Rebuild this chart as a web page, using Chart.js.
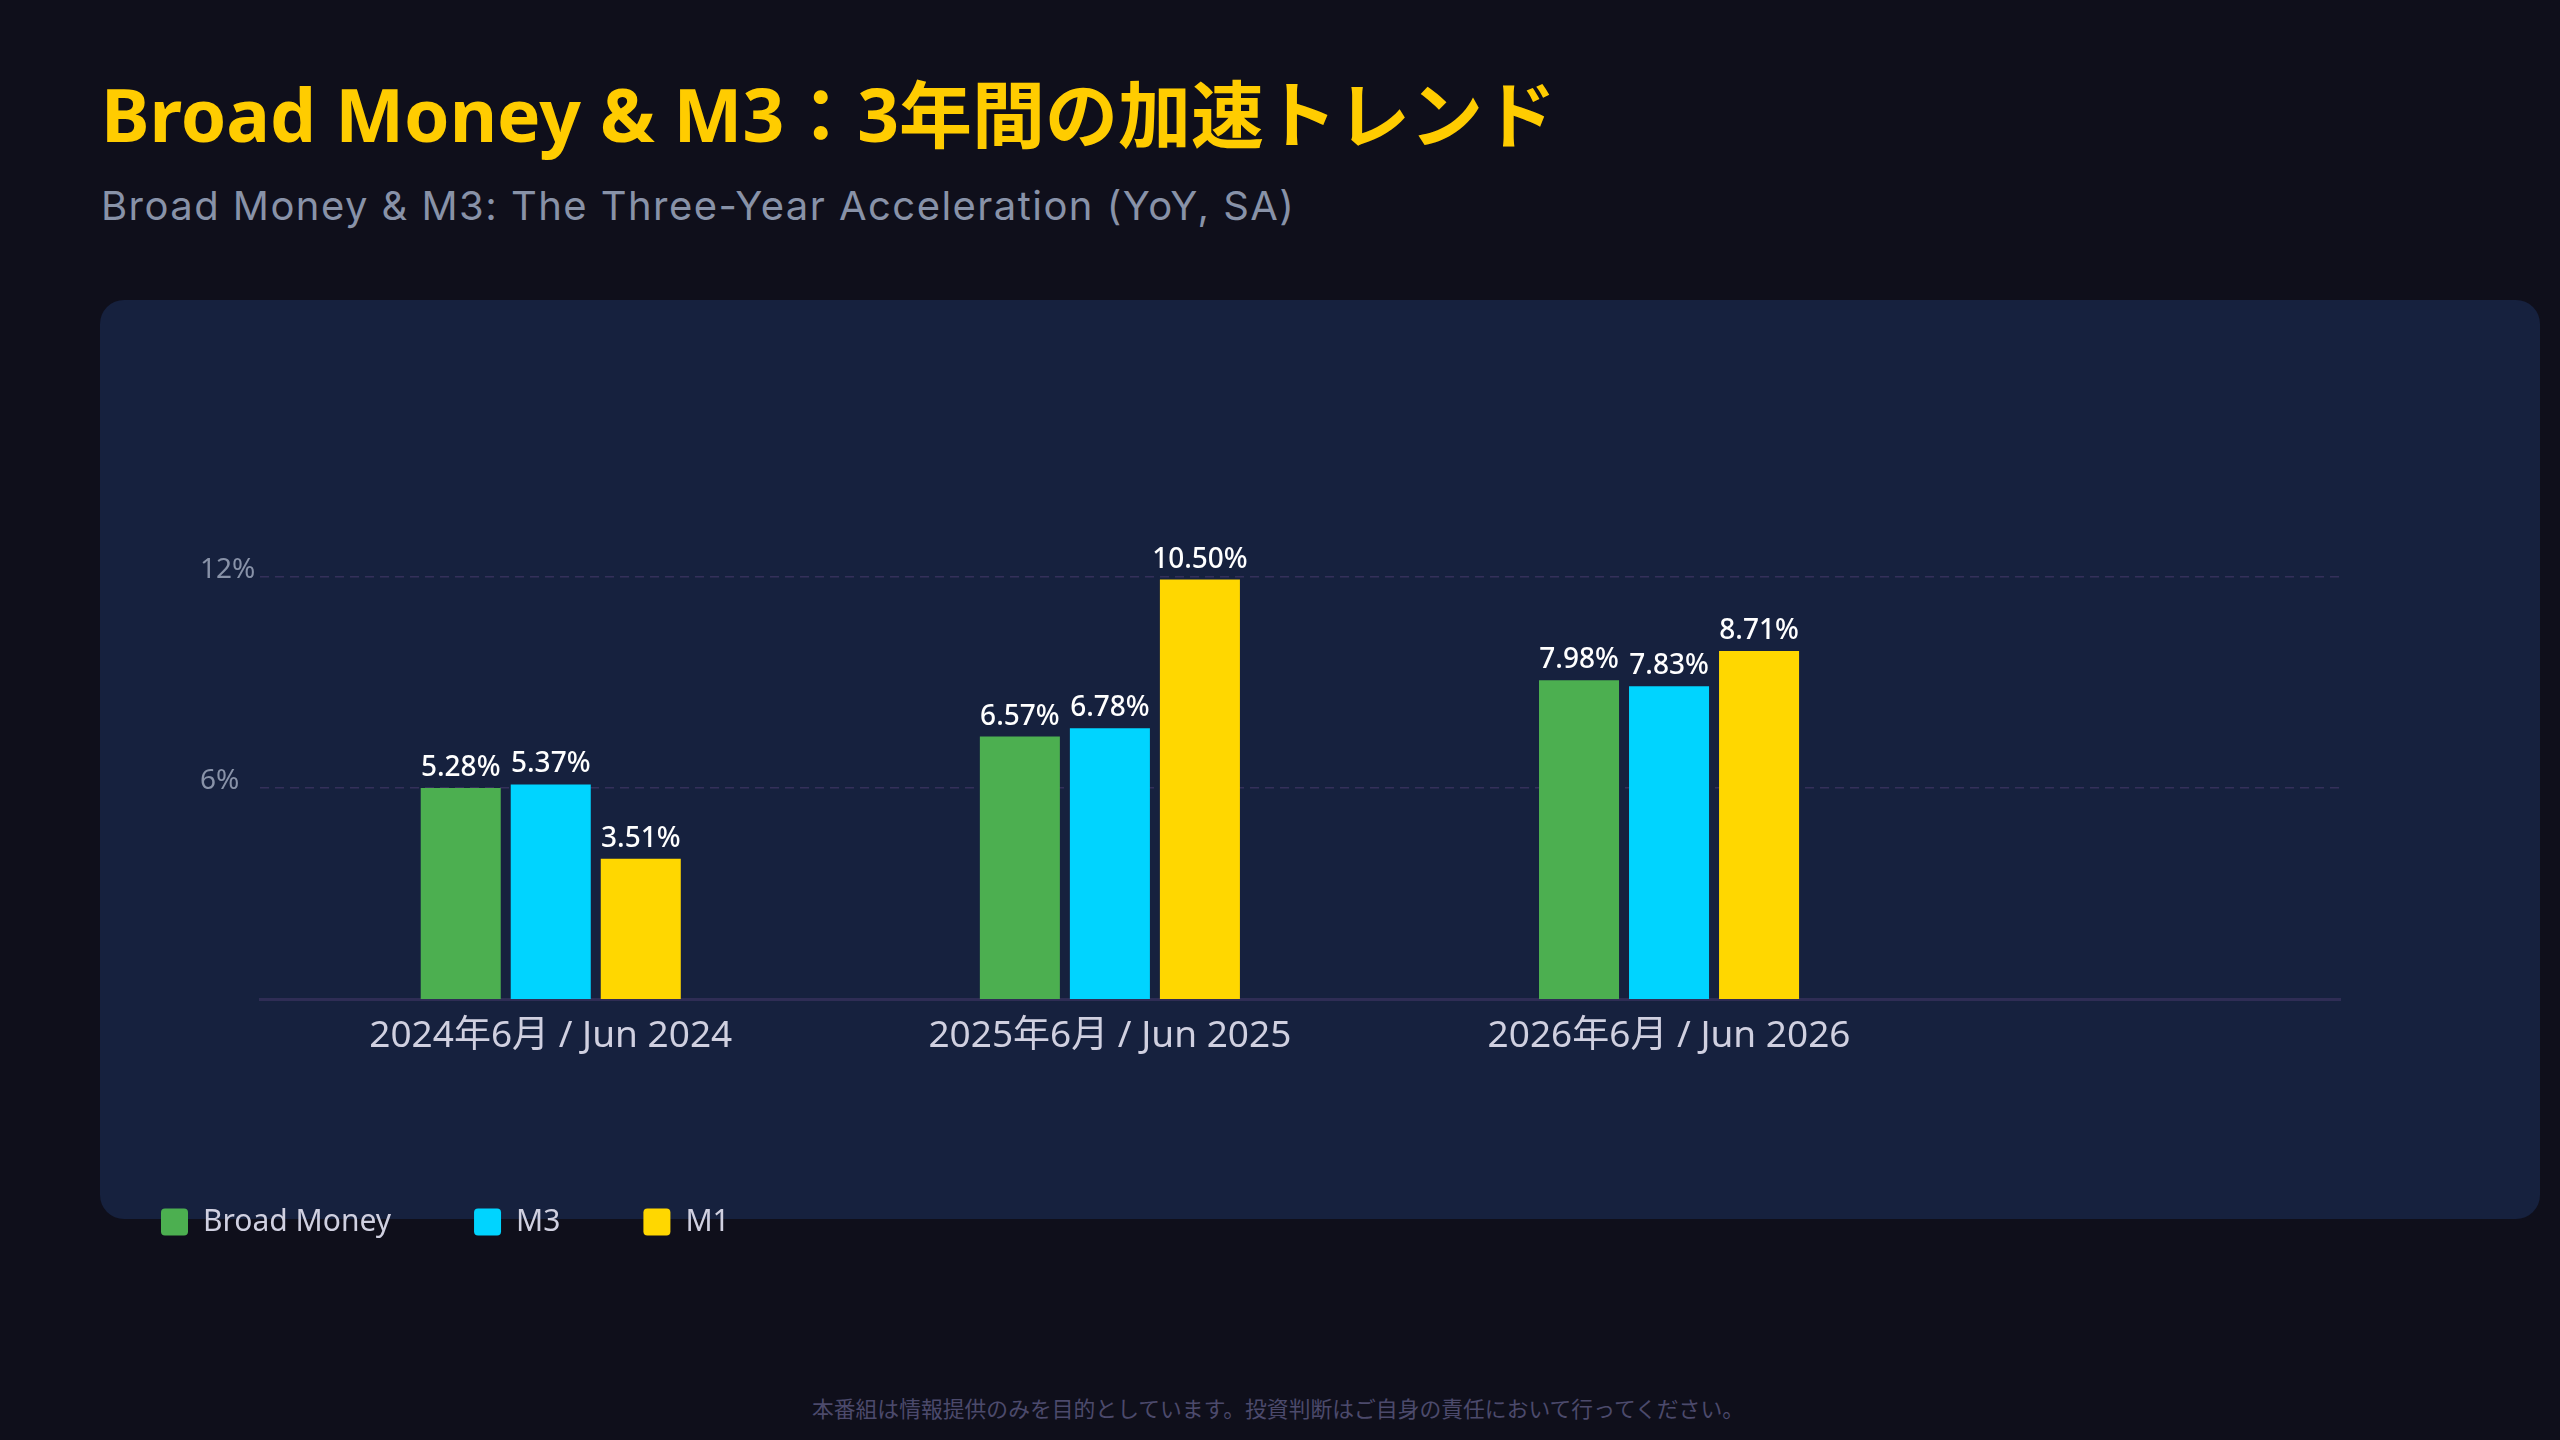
<!DOCTYPE html>
<html lang="ja">
<head>
<meta charset="utf-8">
<title>Broad Money & M3</title>
<script src="https://cdn.jsdelivr.net/npm/chart.js@4.4.1/dist/chart.umd.min.js"></script>
<style>
  html, body { margin: 0; padding: 0; }
  body { width: 2560px; height: 1440px; background: #0f0f1b; position: relative; overflow: hidden; font-family: "Noto Sans", "Noto Sans CJK JP", sans-serif; }
  .card { position: absolute; left: 100px; top: 300px; width: 2440px; height: 919px; border-radius: 24px; background: #16213e; }
  .title { position: absolute; left: 101px; top: 77px; font-size: 73px; line-height: 73px; font-weight: 700; color: #ffcc00; white-space: nowrap; font-family: "Noto Sans", "Noto Sans CJK JP", sans-serif; }
  .subtitle { position: absolute; left: 101px; top: 186px; font-size: 40px; line-height: 40px; letter-spacing: 1.45px; color: #8892a8; white-space: nowrap; font-family: Inter, "Noto Sans", sans-serif; }
  .footer { position: absolute; left: 0; width: 2556px; top: 1393px; text-align: center; font-size: 21.8px; line-height: 30px; color: #4c4a6c; font-family: "Noto Sans CJK JP", sans-serif; }
  #chart { position: absolute; left: 78px; top: 380px; }
</style>
</head>
<body>
<div class="card"></div>
<div class="title">Broad Money &amp; M3：3年間の加速トレンド</div>
<div class="subtitle">Broad Money &amp; M3: The Three-Year Acceleration (YoY, SA)</div>
<canvas id="chart" width="2300" height="900" style="width:2300px;height:900px;"></canvas>
<div class="footer">本番組は情報提供のみを目的としています。投資判断はご自身の責任において行ってください。</div>
<script>
// ---- data ----
const categories = ['2024年6月 / Jun 2024', '2025年6月 / Jun 2025', '2026年6月 / Jun 2026'];
const seriesNames = ['Broad Money', 'M3', 'M1'];
const broadMoney = [5.28, 6.57, 7.98];
const m3 = [5.37, 6.78, 7.83];
const m1 = [3.51, 10.50, 8.71];
// y gridlines as they sit against the bars in the picture, and their printed labels
const yGridValues = [5.29, 10.57];
const yGridLabels = ['6%', '12%'];

const colors = ['#4caf50', '#00d4ff', '#ffd700'];
const LATIN = '"Noto Sans", "Noto Sans CJK JP", sans-serif';

const valueLabels = {
  id: 'valueLabels',
  afterDatasetsDraw(chart) {
    const ctx = chart.ctx;
    ctx.save();
    ctx.font = '500 28px ' + LATIN;
    ctx.fillStyle = '#ffffff';
    ctx.textAlign = 'center';
    ctx.textBaseline = 'alphabetic';
    chart.data.datasets.forEach((ds, i) => {
      chart.getDatasetMeta(i).data.forEach((el, j) => {
        ctx.fillText(ds.data[j].toFixed(2) + '%', el.x, el.y - 12);
      });
    });
    ctx.restore();
  }
};

const seriesValues = [broadMoney, m3, m1];

new Chart(document.getElementById('chart'), {
  type: 'bar',
  data: {
    labels: categories.map((_, i) => i),
    datasets: seriesValues.map((vals, i) => ({
      label: seriesNames[i],
      data: vals,
      backgroundColor: colors[i],
      borderWidth: 0,
      borderRadius: 0,
      xAxisID: 'x',
      yAxisID: 'y',
      categoryPercentage: 0.483,
      barPercentage: 0.889
    }))
  },
  options: {
    responsive: false,
    animation: false,
    devicePixelRatio: 1,
    layout: { padding: { left: 0, top: 18.5, right: 38, bottom: 33 } },
    plugins: {
      tooltip: { enabled: false },
      legend: {
        display: true,
        position: 'bottom',
        align: 'start',
        labels: {
          color: '#d0d0e0',
          font: { size: 30, family: LATIN },
          boxWidth: 27,
          boxHeight: 27,
          useBorderRadius: true,
          borderRadius: 4,
          padding: 83
        }
      }
    },
    scales: {
      x: {
        type: 'linear',
        min: -0.52,
        max: 3.2,
        offset: false,
        afterBuildTicks: (s) => { s.ticks = categories.map((_, i) => ({ value: i })); },
        afterFit: (s) => { s.height = 125; },
        grid: { display: false, drawTicks: false },
        border: { display: true, color: '#2f2d55', width: 3 },
        ticks: {
          color: '#d0d0e0',
          font: { size: 37, family: LATIN },
          padding: 15,
          maxRotation: 0,
          autoSkip: false,
          callback: (v) => categories[v]
        }
      },
      y: {
        type: 'linear',
        position: 'left',
        weight: 0,
        min: 0,
        max: 15,
        afterBuildTicks: (s) => { s.ticks = yGridValues.map(v => ({ value: v })); },
        afterFit: (s) => { s.width = 60; },
        grid: { color: '#34305a', lineWidth: 1.5, drawTicks: false },
        border: { display: false, dash: [9, 6] },
        ticks: {
          color: '#8892a8',
          font: { size: 28, family: LATIN },
          crossAlign: 'far',
          labelOffset: -7,
          callback: (v, i) => yGridLabels[i]
        }
      },
      yPad: {
        type: 'linear',
        position: 'left',
        weight: 1,
        display: true,
        afterFit: (s) => { s.width = 122; },
        grid: { display: false, drawTicks: false },
        border: { display: false },
        ticks: { display: false }
      }
    }
  },
  plugins: [valueLabels]
});
</script>
</body>
</html>
